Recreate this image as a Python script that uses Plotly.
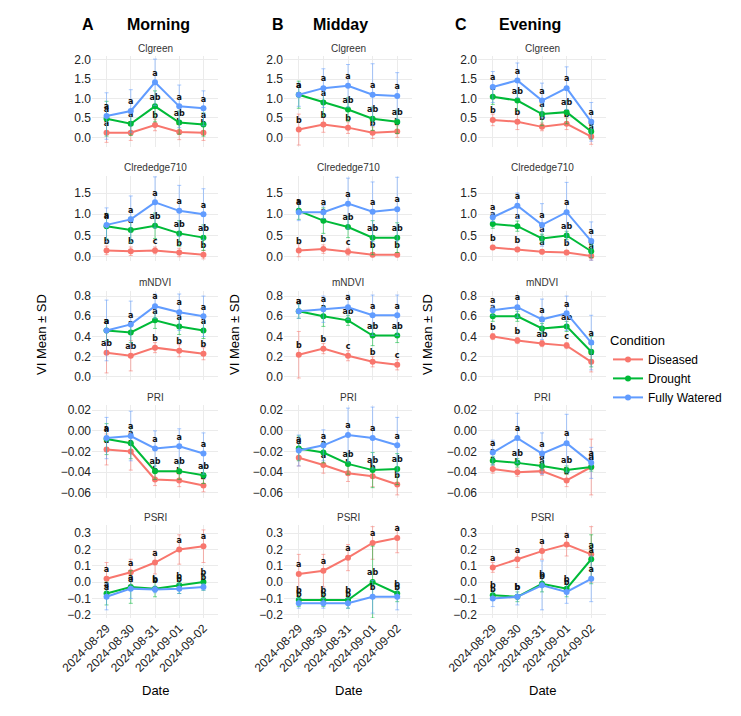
import plotly.graph_objects as go

dates = ["2024-08-29", "2024-08-30", "2024-08-31", "2024-09-01", "2024-09-02"]
periods = ["Morning", "Midday", "Evening"]
panel_letters = ["A", "B", "C"]
indices = ["CIgreen", "CIrededge710", "mNDVI", "PRI", "PSRI"]
index_titles = ["Clgreen", "Clrededge710", "mNDVI", "PRI", "PSRI"]
conditions = ["Diseased", "Drought", "Fully Watered"]
colors = {"Diseased": "#F8766D", "Drought": "#00BA38", "Fully Watered": "#619CFF"}
err_colors = {"Diseased": "rgba(248,118,109,0.55)", "Drought": "rgba(0,186,56,0.55)", "Fully Watered": "rgba(97,156,255,0.55)"}

# means[period][index][condition]
means = {
 "Morning": {
  "CIgreen": {"Diseased": [0.12,0.12,0.32,0.14,0.12], "Drought": [0.48,0.35,0.80,0.38,0.33], "Fully Watered": [0.55,0.68,1.42,0.80,0.75]},
  "CIrededge710": {"Diseased": [0.15,0.13,0.15,0.10,0.05], "Drought": [0.72,0.63,0.73,0.55,0.45], "Fully Watered": [0.75,0.88,1.28,1.08,1.00]},
  "mNDVI": {"Diseased": [0.24,0.21,0.29,0.26,0.23], "Drought": [0.46,0.44,0.56,0.50,0.46], "Fully Watered": [0.46,0.52,0.70,0.64,0.60]},
  "PRI": {"Diseased": [-0.018,-0.020,-0.047,-0.048,-0.053], "Drought": [-0.008,-0.012,-0.039,-0.039,-0.043], "Fully Watered": [-0.007,-0.005,-0.017,-0.015,-0.022]},
  "PSRI": {"Diseased": [0.02,0.06,0.12,0.20,0.22], "Drought": [-0.07,-0.03,-0.04,-0.02,0.00], "Fully Watered": [-0.09,-0.04,-0.045,-0.04,-0.03]},
 },
 "Midday": {
  "CIgreen": {"Diseased": [0.20,0.33,0.25,0.12,0.15], "Drought": [1.10,0.90,0.72,0.48,0.40], "Fully Watered": [1.10,1.27,1.33,1.10,1.07]},
  "CIrededge710": {"Diseased": [0.15,0.18,0.12,0.05,0.05], "Drought": [1.08,0.85,0.70,0.45,0.45], "Fully Watered": [1.05,1.05,1.25,1.06,1.12]},
  "mNDVI": {"Diseased": [0.22,0.28,0.21,0.15,0.12], "Drought": [0.65,0.60,0.56,0.41,0.41], "Fully Watered": [0.65,0.67,0.69,0.61,0.61]},
  "PRI": {"Diseased": [-0.026,-0.033,-0.041,-0.044,-0.052], "Drought": [-0.017,-0.021,-0.032,-0.038,-0.037], "Fully Watered": [-0.019,-0.014,-0.004,-0.007,-0.014]},
  "PSRI": {"Diseased": [0.05,0.07,0.15,0.24,0.27], "Drought": [-0.11,-0.11,-0.11,0.00,-0.07], "Fully Watered": [-0.13,-0.13,-0.13,-0.09,-0.09]},
 },
 "Evening": {
  "CIgreen": {"Diseased": [0.45,0.40,0.27,0.35,0.02], "Drought": [1.05,0.95,0.60,0.65,0.15], "Fully Watered": [1.30,1.47,0.95,1.27,0.40]},
  "CIrededge710": {"Diseased": [0.22,0.17,0.12,0.10,0.02], "Drought": [0.77,0.72,0.43,0.50,0.13], "Fully Watered": [0.93,1.20,0.75,1.05,0.37]},
  "mNDVI": {"Diseased": [0.40,0.36,0.33,0.31,0.15], "Drought": [0.60,0.60,0.48,0.50,0.25], "Fully Watered": [0.66,0.69,0.57,0.63,0.34]},
  "PRI": {"Diseased": [-0.037,-0.040,-0.039,-0.048,-0.035], "Drought": [-0.029,-0.031,-0.034,-0.038,-0.035], "Fully Watered": [-0.021,-0.007,-0.022,-0.012,-0.031]},
  "PSRI": {"Diseased": [0.09,0.14,0.19,0.23,0.17], "Drought": [-0.08,-0.09,-0.01,-0.04,0.14], "Fully Watered": [-0.10,-0.09,-0.02,-0.06,0.02]},
 },
}

sds = {
 "Morning": {
  "CIgreen": {"Diseased": [0.25,0.20,0.15,0.20,0.20], "Drought": [0.45,0.30,0.40,0.30,0.30], "Fully Watered": [0.60,0.55,0.60,0.55,0.45]},
  "CIrededge710": {"Diseased": [0.10,0.10,0.08,0.10,0.10], "Drought": [0.30,0.30,0.30,0.30,0.30], "Fully Watered": [0.40,0.55,0.60,0.60,0.60]},
  "mNDVI": {"Diseased": [0.20,0.15,0.05,0.06,0.06], "Drought": [0.10,0.10,0.08,0.08,0.08], "Fully Watered": [0.30,0.23,0.12,0.18,0.20]},
  "PRI": {"Diseased": [0.015,0.018,0.006,0.006,0.006], "Drought": [0.015,0.015,0.008,0.008,0.008], "Fully Watered": [0.020,0.024,0.017,0.017,0.020]},
  "PSRI": {"Diseased": [0.10,0.08,0.07,0.09,0.10], "Drought": [0.07,0.10,0.05,0.05,0.05], "Fully Watered": [0.08,0.06,0.02,0.03,0.02]},
 },
 "Midday": {
  "CIgreen": {"Diseased": [0.40,0.20,0.15,0.15,0.15], "Drought": [0.35,0.35,0.30,0.30,0.30], "Fully Watered": [0.30,0.50,0.55,0.80,0.60]},
  "CIrededge710": {"Diseased": [0.15,0.10,0.08,0.05,0.05], "Drought": [0.20,0.30,0.25,0.40,0.35], "Fully Watered": [0.20,0.15,0.60,0.70,0.75]},
  "mNDVI": {"Diseased": [0.23,0.05,0.05,0.05,0.05], "Drought": [0.07,0.10,0.05,0.10,0.07], "Fully Watered": [0.07,0.13,0.12,0.20,0.20]},
  "PRI": {"Diseased": [0.008,0.008,0.008,0.010,0.010], "Drought": [0.012,0.010,0.010,0.017,0.015], "Fully Watered": [0.015,0.015,0.026,0.030,0.027]},
  "PSRI": {"Diseased": [0.12,0.10,0.08,0.10,0.09], "Drought": [0.04,0.04,0.05,0.22,0.05], "Fully Watered": [0.03,0.03,0.03,0.10,0.08]},
 },
 "Evening": {
  "CIgreen": {"Diseased": [0.15,0.20,0.10,0.15,0.20], "Drought": [0.20,0.25,0.30,0.30,0.20], "Fully Watered": [0.40,0.45,0.45,0.55,0.50]},
  "CIrededge710": {"Diseased": [0.05,0.05,0.05,0.05,0.10], "Drought": [0.10,0.12,0.10,0.10,0.15], "Fully Watered": [0.10,0.30,0.50,0.70,0.45]},
  "mNDVI": {"Diseased": [0.03,0.03,0.03,0.03,0.10], "Drought": [0.05,0.05,0.05,0.05,0.15], "Fully Watered": [0.05,0.10,0.20,0.17,0.27]},
  "PRI": {"Diseased": [0.004,0.004,0.004,0.006,0.027], "Drought": [0.004,0.004,0.004,0.004,0.004], "Fully Watered": [0.012,0.024,0.020,0.028,0.015]},
  "PSRI": {"Diseased": [0.03,0.05,0.05,0.07,0.17], "Drought": [0.03,0.03,0.05,0.05,0.15], "Fully Watered": [0.05,0.05,0.15,0.07,0.14]},
 },
}

letters = {
 "Morning": {
  "CIgreen": {"Diseased": ["a","a","b","b","b"], "Drought": ["a","a","ab","ab","a"], "Fully Watered": ["a","a","a","a","a"]},
  "CIrededge710": {"Diseased": ["b","b","c","b","b"], "Drought": ["a","a","ab","ab","ab"], "Fully Watered": ["a","a","a","a","a"]},
  "mNDVI": {"Diseased": ["ab","ab","b","b","b"], "Drought": ["a","a","a","a","a"], "Fully Watered": ["a","a","a","a","a"]},
  "PRI": {"Diseased": ["a","a","b","b","b"], "Drought": ["a","a","ab","ab","ab"], "Fully Watered": ["a","a","a","a","a"]},
  "PSRI": {"Diseased": ["a","a","a","a","a"], "Drought": ["a","a","b","b","b"], "Fully Watered": ["a","a","b","b","b"]},
 },
 "Midday": {
  "CIgreen": {"Diseased": ["b","b","b","b","b"], "Drought": ["a","a","ab","ab","ab"], "Fully Watered": ["a","a","a","a","a"]},
  "CIrededge710": {"Diseased": ["b","b","c","b","b"], "Drought": ["a","a","ab","ab","ab"], "Fully Watered": ["a","a","a","a","a"]},
  "mNDVI": {"Diseased": ["b","b","c","b","c"], "Drought": ["a","a","ab","ab","ab"], "Fully Watered": ["a","a","a","a","a"]},
  "PRI": {"Diseased": ["a","a","b","b","b"], "Drought": ["a","a","ab","ab","ab"], "Fully Watered": ["a","a","a","a","a"]},
  "PSRI": {"Diseased": ["a","a","a","a","a"], "Drought": ["b","b","b","ab","b"], "Fully Watered": ["b","b","b","b","b"]},
 },
 "Evening": {
  "CIgreen": {"Diseased": ["b","b","b","b","a"], "Drought": ["a","ab","a","ab","a"], "Fully Watered": ["a","a","a","a","a"]},
  "CIrededge710": {"Diseased": ["b","b","a","b","a"], "Drought": ["a","a","a","ab","a"], "Fully Watered": ["a","a","a","a","a"]},
  "mNDVI": {"Diseased": ["b","b","ab","c","a"], "Drought": ["a","a","a","ab","a"], "Fully Watered": ["a","a","a","a","a"]},
  "PRI": {"Diseased": ["a","b","a","b","a"], "Drought": ["a","ab","a","ab","a"], "Fully Watered": ["a","a","a","a","a"]},
  "PSRI": {"Diseased": ["a","a","a","a","a"], "Drought": ["b","b","b","b","a"], "Fully Watered": ["b","b","b","b","a"]},
 },
}

y_ranges = {"CIgreen": [-0.25, 2.1], "CIrededge710": [-0.1, 1.9], "mNDVI": [-0.03, 0.85], "PRI": [-0.065, 0.025], "PSRI": [-0.22, 0.35]}
y_ticks = {"CIgreen": [0, 0.5, 1.0, 1.5, 2.0], "CIrededge710": [0, 0.5, 1.0, 1.5], "mNDVI": [0, 0.2, 0.4, 0.6, 0.8],
           "PRI": [-0.06, -0.04, -0.02, 0, 0.02], "PSRI": [-0.2, -0.1, 0, 0.1, 0.2, 0.3]}
y_ticktext = {"CIgreen": ["0.0","0.5","1.0","1.5","2.0"], "CIrededge710": ["0.0","0.5","1.0","1.5"],
              "mNDVI": ["0.0","0.2","0.4","0.6","0.8"], "PRI": ["−0.06","−0.04","−0.02","0.00","0.02"],
              "PSRI": ["−0.2","−0.1","0.0","0.1","0.2","0.3"]}

W, H = 741, 716
col_px = [(92, 218), (284, 412), (478, 606)]
row_px = [(56, 147), (176, 261), (291, 380), (405, 498), (525, 618)]
letter_px = [88, 278, 461]
period_px = [158, 340, 530]
ytitle_px = [42, 235, 428]

fig = go.Figure()
layout = {}
annotations = []
FONT = "Liberation Sans, Arial, sans-serif"

def ann(text, x, y, size, color="black", angle=0):
    return dict(text=text, x=x / W, y=1 - y / H, xref="paper", yref="paper", showarrow=False,
                xanchor="center", yanchor="middle", textangle=angle,
                font=dict(size=size, color=color, family=FONT))

n = 0
for c, period in enumerate(periods):
    for r, idx in enumerate(indices):
        n += 1
        xa = "x" if n == 1 else f"x{n}"
        ya = "y" if n == 1 else f"y{n}"
        xk = "xaxis" if n == 1 else f"xaxis{n}"
        yk = "yaxis" if n == 1 else f"yaxis{n}"
        x0, x1 = col_px[c]
        y0, y1 = row_px[r]
        layout[xk] = dict(domain=[x0 / W, x1 / W], anchor=ya, type="category",
                          categoryorder="array", categoryarray=dates,
                          range=[-0.6, 4.6], showgrid=True, gridcolor="#EBEBEB",
                          showticklabels=(r == 4), tickangle=-45, ticks="", automargin=False,
                          tickfont=dict(size=12, color="#222", family=FONT), zeroline=False)
        layout[yk] = dict(domain=[1 - y1 / H, 1 - y0 / H], anchor=xa, range=y_ranges[idx],
                          tickvals=y_ticks[idx], ticktext=y_ticktext[idx], showgrid=True,
                          gridcolor="#EBEBEB", zeroline=False, ticks="", automargin=False,
                          tickfont=dict(size=12, color="#222", family=FONT))
        for cond in conditions:
            fig.add_trace(go.Scatter(
                x=dates, y=means[period][idx][cond], xaxis=xa, yaxis=ya,
                mode="lines+markers+text", name=cond, legendgroup=cond,
                showlegend=(n == 1),
                line=dict(color=colors[cond], width=2),
                marker=dict(color=colors[cond], size=6),
                error_y=dict(type="data", array=sds[period][idx][cond], color=err_colors[cond],
                             thickness=1, width=2),
                text=[f"<b>{t}</b>" for t in letters[period][idx][cond]], textposition="top center",
                textfont=dict(size=8, color="#111", family="DejaVu Sans"),
                cliponaxis=False))
        annotations.append(ann(index_titles[r], (x0 + x1) / 2, y0 - 8, 10, "#333"))
    annotations.append(ann(f"<b>{panel_letters[c]}</b>", letter_px[c], 25, 16))
    annotations.append(ann(f"<b>{period}</b>", period_px[c], 25, 16))
    annotations.append(ann("VI Mean ± SD", ytitle_px[c], 335, 13, angle=-90))
    annotations.append(ann("Date", (col_px[c][0] + col_px[c][1]) / 2, 690, 13))

fig.update_layout(**layout)
fig.update_layout(
    width=W, height=H, margin=dict(l=0, r=0, t=0, b=0, autoexpand=False),
    paper_bgcolor="white", plot_bgcolor="white",
    annotations=annotations,
    font=dict(family=FONT),
    legend=dict(x=608 / W, y=1 - 328 / H, xanchor="left", yanchor="top",
                title=dict(text="Condition", font=dict(size=13, color="black")),
                font=dict(size=12, color="black"), tracegroupgap=0, itemwidth=30),
)
fig.write_html("out.html", config={"displayModeBar": False},
               post_script="document.body.style.margin='0';document.body.style.overflow='hidden';")
